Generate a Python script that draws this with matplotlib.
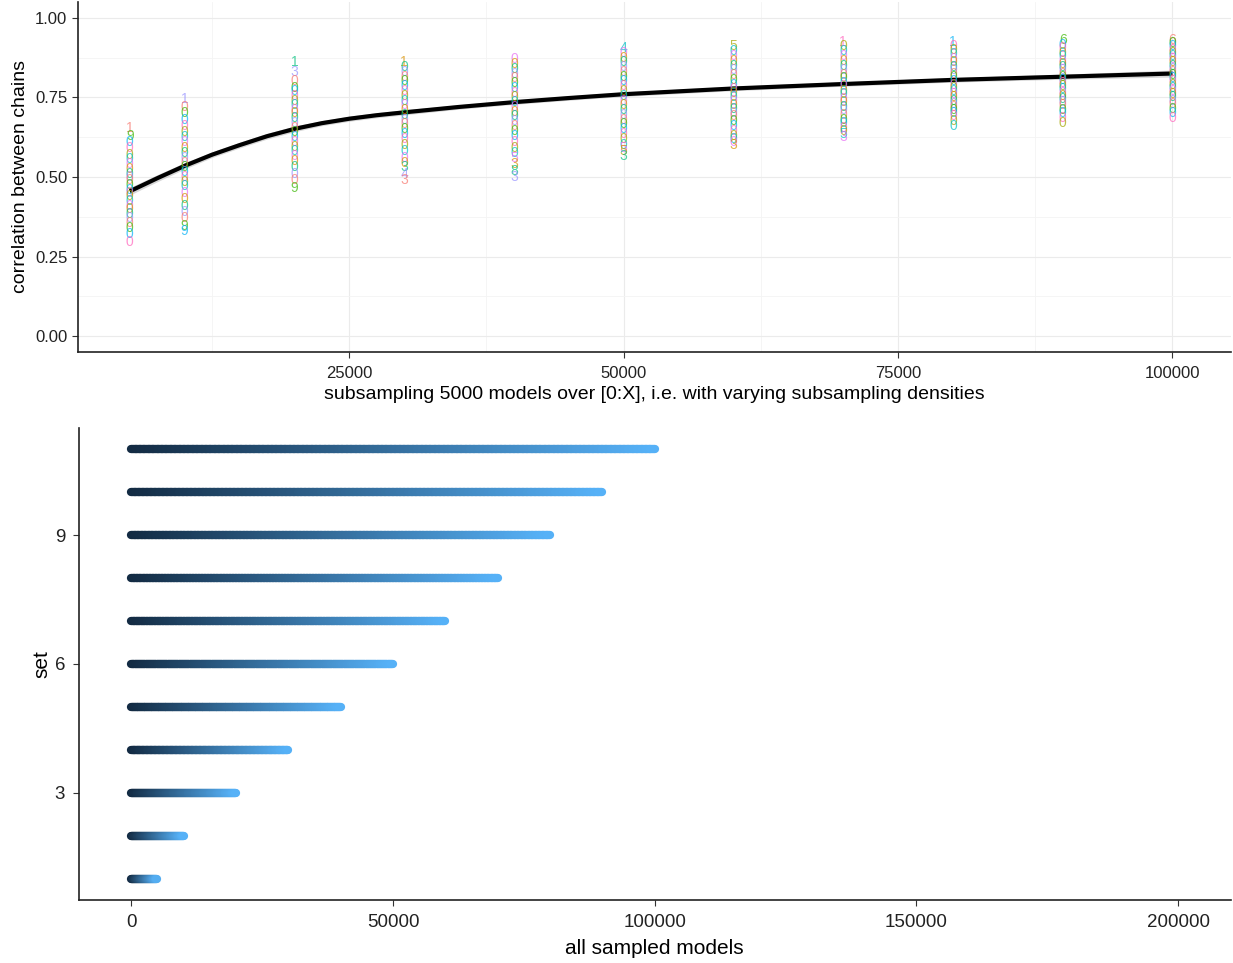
import matplotlib
matplotlib.use("Agg")
import matplotlib.pyplot as plt
import numpy as np
from matplotlib.collections import LineCollection
from matplotlib.colors import LinearSegmentedColormap
from matplotlib.ticker import MultipleLocator

plt.rcParams["font.family"] = ["Liberation Sans", "DejaVu Sans"]

# ---- top panel data: correlation between chains per subsampling range ----
sub_x = [5000, 10000, 20000, 30000, 40000, 50000, 60000, 70000, 80000, 90000, 100000]
corr = [
    [0.655, 0.63, 0.61, 0.59, 0.57, 0.555, 0.54, 0.525, 0.51, 0.50, 0.49, 0.475,
     0.46, 0.45, 0.44, 0.425, 0.41, 0.40, 0.385, 0.37, 0.355, 0.34, 0.32, 0.295],
    [0.745, 0.72, 0.70, 0.68, 0.66, 0.64, 0.625, 0.61, 0.59, 0.575, 0.56, 0.545,
     0.53, 0.515, 0.50, 0.485, 0.47, 0.45, 0.43, 0.41, 0.39, 0.37, 0.345, 0.33],
    [0.86, 0.83, 0.80, 0.78, 0.77, 0.755, 0.74, 0.725, 0.71, 0.70, 0.685, 0.67,
     0.655, 0.64, 0.625, 0.61, 0.595, 0.58, 0.565, 0.55, 0.53, 0.51, 0.49, 0.465],
    [0.86, 0.845, 0.83, 0.815, 0.80, 0.785, 0.77, 0.755, 0.74, 0.725, 0.71, 0.695,
     0.68, 0.665, 0.65, 0.635, 0.62, 0.60, 0.58, 0.56, 0.545, 0.53, 0.51, 0.49],
    [0.87, 0.855, 0.84, 0.825, 0.81, 0.795, 0.78, 0.765, 0.75, 0.735, 0.72, 0.705,
     0.69, 0.675, 0.66, 0.645, 0.63, 0.61, 0.59, 0.575, 0.56, 0.54, 0.52, 0.50],
    [0.905, 0.89, 0.875, 0.86, 0.845, 0.83, 0.815, 0.80, 0.785, 0.77, 0.755, 0.74,
     0.725, 0.71, 0.695, 0.68, 0.665, 0.65, 0.635, 0.62, 0.60, 0.59, 0.58, 0.565],
    [0.91, 0.895, 0.88, 0.865, 0.85, 0.835, 0.82, 0.805, 0.79, 0.775, 0.765, 0.75,
     0.74, 0.725, 0.715, 0.70, 0.69, 0.675, 0.66, 0.645, 0.63, 0.62, 0.61, 0.60],
    [0.925, 0.91, 0.895, 0.88, 0.865, 0.85, 0.835, 0.82, 0.81, 0.795, 0.785, 0.77,
     0.76, 0.745, 0.735, 0.72, 0.71, 0.695, 0.68, 0.67, 0.655, 0.645, 0.635, 0.625],
    [0.925, 0.91, 0.90, 0.885, 0.87, 0.86, 0.845, 0.835, 0.825, 0.815, 0.80, 0.79,
     0.78, 0.77, 0.76, 0.75, 0.74, 0.73, 0.72, 0.71, 0.70, 0.69, 0.675, 0.66],
    [0.93, 0.915, 0.905, 0.89, 0.88, 0.865, 0.855, 0.845, 0.835, 0.825, 0.815, 0.805,
     0.795, 0.785, 0.775, 0.765, 0.755, 0.745, 0.735, 0.725, 0.71, 0.70, 0.685, 0.67],
    [0.93, 0.92, 0.91, 0.90, 0.89, 0.88, 0.87, 0.86, 0.85, 0.84, 0.83, 0.82,
     0.81, 0.80, 0.79, 0.78, 0.77, 0.76, 0.75, 0.74, 0.73, 0.715, 0.70, 0.685],
]
labels = [
    "190000000000000000000000",
    "100000000000000000000099",
    "130000000000000000000009",
    "100000000000000000000343",
    "000000000000000000005383",
    "400000000000000000000553",
    "500000000000000000000003",
    "100000000000000000000053",
    "100000000000000000000000",
    "600000000000000000000000",
    "600000000000000000000000",
]

# smooth fit
fit_x = [5000, 7500, 10000, 12500, 15000, 17500, 20000, 22500, 25000, 27500,
         30000, 35000, 40000, 45000, 50000, 60000, 70000, 80000, 90000, 100000]
fit_y = [0.455, 0.496, 0.535, 0.570, 0.600, 0.628, 0.651, 0.669, 0.683, 0.694,
         0.703, 0.720, 0.735, 0.748, 0.760, 0.778, 0.792, 0.805, 0.815, 0.825]
fit_se = [0.012, 0.011, 0.010, 0.009, 0.009, 0.009, 0.009, 0.008, 0.008, 0.008,
          0.008, 0.007, 0.007, 0.007, 0.007, 0.007, 0.007, 0.007, 0.008, 0.011]

# ---- bottom panel data: sampled model ranges per set ----
sets = [1, 2, 3, 4, 5, 6, 7, 8, 9, 10, 11]
set_end = [5000, 10000, 20000, 30000, 40000, 50000, 60000, 70000, 80000, 90000, 100000]

hue = ["#F8766D", "#D89000", "#A3A500", "#39B600", "#00BF7D",
       "#00BFC4", "#00B0F6", "#9590FF", "#E76BF3", "#FF62BC"]

fig = plt.figure(figsize=(12.33, 9.63), dpi=100)
ax1 = fig.add_axes([0.063, 0.6345, 0.935, 0.3635])
ax2 = fig.add_axes([0.064, 0.0654, 0.934, 0.4902])

# top panel
for c, (x, vals, labs) in enumerate(zip(sub_x, corr, labels)):
    for i, (v, l) in enumerate(zip(vals, labs)):
        ax1.text(x, v, l, color=hue[(i * 3 + c * 7) % 10], alpha=0.7,
                 fontsize=10, ha="center", va="center")
ax1.fill_between(fit_x, np.array(fit_y) - np.array(fit_se),
                 np.array(fit_y) + np.array(fit_se), color="#999999", alpha=0.4, lw=0)
ax1.plot(fit_x, fit_y, color="black", lw=3, solid_capstyle="butt")

ax1.set_xlim(250, 105300)
ax1.set_ylim(-0.05, 1.05)
ax1.xaxis.set_minor_locator(MultipleLocator(12500))
ax1.set_xticks([25000, 50000, 75000, 100000])
ax1.yaxis.set_major_locator(MultipleLocator(0.25))
ax1.yaxis.set_minor_locator(MultipleLocator(0.125))
ax1.yaxis.set_major_formatter(plt.FuncFormatter(lambda v, p: f"{v:.2f}"))
ax1.grid(which="major", color="#EBEBEB", lw=0.8)
ax1.grid(which="minor", color="#F4F4F4", lw=0.6)
ax1.tick_params(which="minor", length=0)
ax1.tick_params(axis="x", pad=6)
ax1.set_axisbelow(True)
ax1.set_xlabel("subsampling 5000 models over [0:X], i.e. with varying subsampling densities",
               fontsize=14, labelpad=4)
ax1.set_ylabel("correlation between chains", fontsize=14, labelpad=4)

# bottom panel: gradient lines
cmap = LinearSegmentedColormap.from_list("gg", ["#132B43", "#56B1F7"])
for s, end in zip(sets, set_end):
    xs = np.linspace(0, end, 120)
    segs = [[(xs[k], s), (xs[k + 1], s)] for k in range(len(xs) - 1)]
    lc = LineCollection(segs, colors=cmap(np.linspace(0, 1, len(segs))),
                        linewidths=6, capstyle="round")
    ax2.add_collection(lc)
ax2.set_xlim(-10000, 210000)
ax2.set_ylim(0.5, 11.5)
ax2.set_xticks([0, 50000, 100000, 150000, 200000])
ax2.set_yticks([3, 6, 9])
ax2.set_xlabel("all sampled models", fontsize=15, labelpad=6)
ax2.set_ylabel("set", fontsize=15, labelpad=2)

for ax in (ax1, ax2):
    for sp in ("top", "right"):
        ax.spines[sp].set_visible(False)
    for sp in ("left", "bottom"):
        ax.spines[sp].set_color("#222222")
        ax.spines[sp].set_linewidth(1.2)
    ax.tick_params(which="major", length=4, color="#333333",
                   labelcolor="#222222")
ax1.tick_params(labelsize=12)
ax2.tick_params(labelsize=13.5, pad=6)

fig.savefig("out.png", dpi=100)
